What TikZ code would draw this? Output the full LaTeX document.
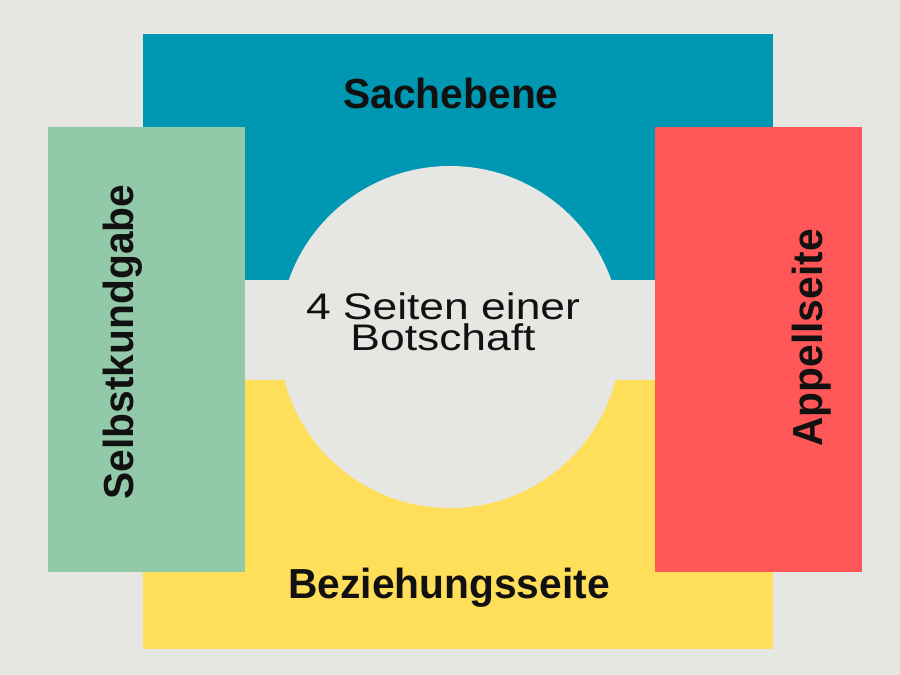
\documentclass[tikz,border=0pt]{standalone}
\usepackage{fontspec}
\setmainfont{Liberation Sans}
\newfontfamily\headfont[FakeStretch=0.97]{Liberation Sans}
\newfontfamily\msgfont[FakeStretch=1.2]{Liberation Sans}

\definecolor{bgGray}{HTML}{E6E6E2}
\definecolor{sachTeal}{HTML}{0097B2}
\definecolor{beziehYellow}{HTML}{FFDE59}
\definecolor{selbstGreen}{HTML}{92C9A9}
\definecolor{appellRed}{HTML}{FF5757}
\definecolor{inkBlack}{HTML}{111111}

\begin{document}
\begin{tikzpicture}[x=1pt,y=-1pt]
\fill[bgGray] (0,0) rectangle (900,675);
\useasboundingbox (0,0) rectangle (900,675);

% the four panels and the message circle
\fill[sachTeal] (143,34) rectangle (773,280);
\fill[beziehYellow] (143,380) rectangle (773,649);
\fill[bgGray] (450,337) circle (171);
\fill[selbstGreen] (48,127) rectangle (245,572);
\fill[appellRed] (655,127) rectangle (862,572);

\begin{scope}[every node/.style={inner sep=0pt,text=inkBlack,
                                 font=\headfont\bfseries\fontsize{42}{48}\selectfont}]
    \node[anchor=base] (sach) at (451,108) {Sachebene};
    \node[anchor=base] (bez) at (449,598) {Beziehungsseite};
    \node[anchor=base,rotate=90] (selbst) at (133,342) {Selbstkundgabe};
    \node[anchor=base,rotate=90] (appell) at (822,338) {Appellseite};
\end{scope}

\node[inner sep=0pt,text=inkBlack,align=center,
      font=\msgfont\fontsize{37}{31}\selectfont] (msg) at (443,321.5)
      {4 Seiten einer\\Botschaft};
\end{tikzpicture}
\end{document}
